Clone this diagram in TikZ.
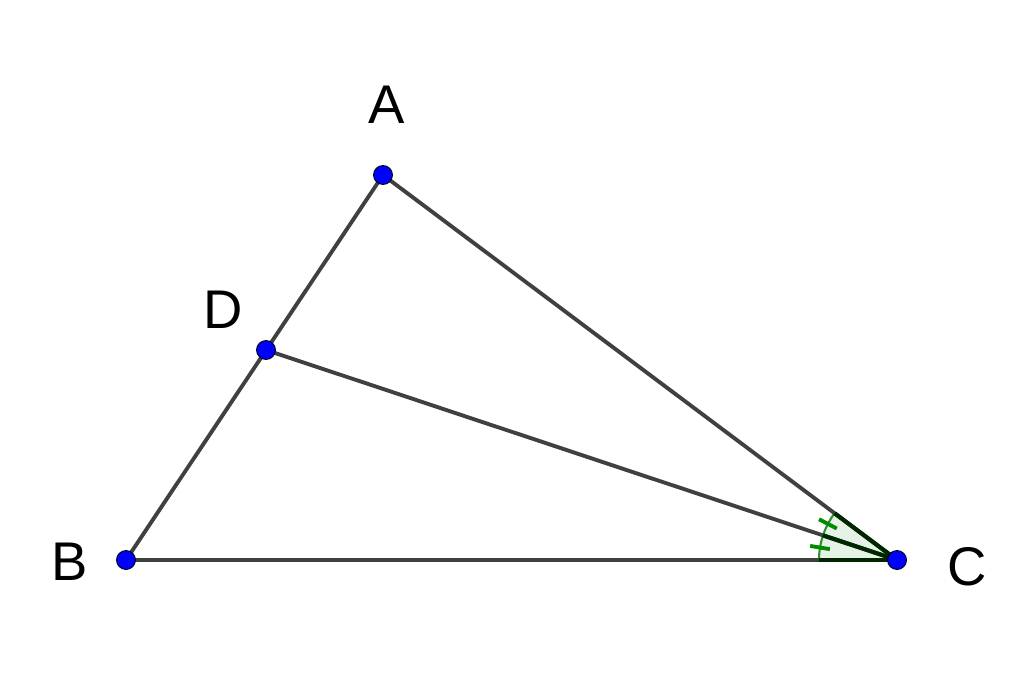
\documentclass[tikz,border=0pt]{standalone}
\usepackage{fontspec}
\setmainfont{Liberation Sans}
\usetikzlibrary{angles,calc}

\tikzset{
  pt/.style={circle,draw=black,fill=blue,line width=0.5pt,inner sep=0pt,minimum size=0.38cm},
  lbl/.style={font=\fontsize{31}{31}\selectfont,inner sep=0pt},
  side/.style={draw=black!75,line width=2.2pt},
  anglemark/.style={draw=green!45!black,fill=green!50!black,fill opacity=0.1,draw opacity=0.8,line width=1.2pt,angle radius=1.56cm},
  markedge/.style={draw=green!15!black,line width=2.4pt},
  tick/.style={draw=green!55!black,line width=2.2pt}
}

\begin{document}
\begin{tikzpicture}[x=0.02cm,y=-0.02cm]
    \useasboundingbox (0,0) rectangle (1024,679);
    \coordinate (A) at (383,175);
    \coordinate (B) at (126,560);
    \coordinate (C) at (897,560);
    \coordinate (D) at (266,350);
    \draw[side] (A) -- (B) -- (C) -- cycle;
    \draw[side] (D) -- (C);
    % angle marks at C
    \pic[anglemark] {angle = A--C--D};
    \pic[anglemark] {angle = D--C--B};
    \draw[markedge] (C) -- ($(C)!1.56cm!(A)$);
    \draw[markedge] (C) -- ($(C)!1.56cm!(D)$);
    \draw[markedge] (C) -- ($(C)!1.56cm!(B)$);
    \draw[tick] ($(C)+(152.4:1.36cm)$) -- ($(C)+(152.4:1.76cm)$);
    \draw[tick] ($(C)+(170.8:1.36cm)$) -- ($(C)+(170.8:1.76cm)$);
    \node[pt] (a) at (A) {};
    \node[pt] (b) at (B) {};
    \node[pt] (c) at (C) {};
    \node[pt] (d) at (D) {};
    \node[lbl] (la) at (387,105) {A};
    \node[lbl] (lb) at (70,562) {B};
    \node[lbl] (lc) at (967,567) {C};
    \node[lbl] (ld) at (223,310) {D};
\end{tikzpicture}
\end{document}
